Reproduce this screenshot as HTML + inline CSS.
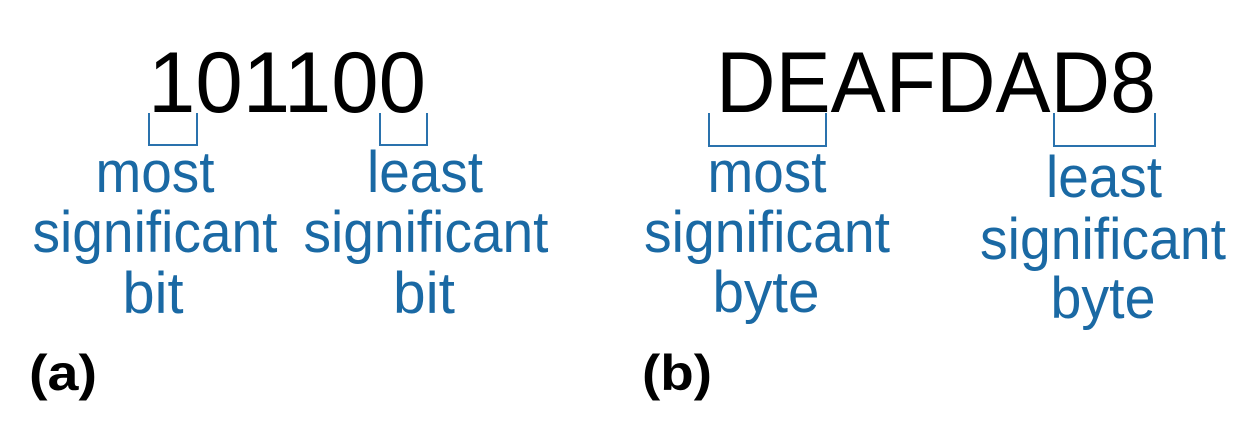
<!DOCTYPE html>
<html><head><style>html,body{margin:0;padding:0;background:#fff}</style></head>
<body>
<svg width="1248" height="422" viewBox="0 0 1248 422" xmlns="http://www.w3.org/2000/svg" font-family="Liberation Sans, Arial, sans-serif">
<text x="148" y="112" font-size="86" textLength="278" lengthAdjust="spacingAndGlyphs" fill="#000">101100</text>
<text x="716" y="112" font-size="86" textLength="440" lengthAdjust="spacingAndGlyphs" fill="#000">DEAFDAD8</text>
<g fill="none" stroke="#2a72ad" stroke-width="2">
<polyline points="149,113 149,145 197,145 197,113"/>
<polyline points="380,113 380,145 427,145 427,113"/>
<polyline points="709,113 709,146 826,146 826,113"/>
<polyline points="1054,113 1054,146 1155,146 1155,113"/>
</g>
<g fill="#1a69a4" font-size="58" text-anchor="middle" lengthAdjust="spacingAndGlyphs">
<text x="155" y="192" textLength="119" lengthAdjust="spacingAndGlyphs">most</text>
<text x="155" y="252" textLength="245" lengthAdjust="spacingAndGlyphs">significant</text>
<text x="153" y="313" textLength="61" lengthAdjust="spacingAndGlyphs">bit</text>
<text x="425" y="192" textLength="116" lengthAdjust="spacingAndGlyphs">least</text>
<text x="426" y="252" textLength="245" lengthAdjust="spacingAndGlyphs">significant</text>
<text x="424" y="313" textLength="62" lengthAdjust="spacingAndGlyphs">bit</text>
<text x="767" y="192" textLength="119" lengthAdjust="spacingAndGlyphs">most</text>
<text x="767" y="252" textLength="246" lengthAdjust="spacingAndGlyphs">significant</text>
<text x="766" y="312" textLength="107" lengthAdjust="spacingAndGlyphs">byte</text>
<text x="1104" y="197" textLength="116" lengthAdjust="spacingAndGlyphs">least</text>
<text x="1103" y="259" textLength="246" lengthAdjust="spacingAndGlyphs">significant</text>
<text x="1103" y="318" textLength="105" lengthAdjust="spacingAndGlyphs">byte</text>
</g>
<g fill="#000" font-size="50" font-weight="bold">
<text x="29" y="390" textLength="68" lengthAdjust="spacingAndGlyphs">(a)</text>
<text x="642" y="390" textLength="70" lengthAdjust="spacingAndGlyphs">(b)</text>
</g>
</svg>
</body></html>
